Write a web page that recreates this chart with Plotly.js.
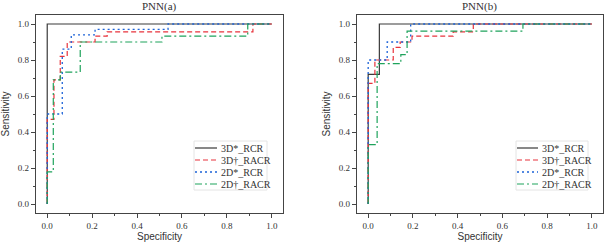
<!DOCTYPE html>
<html>
<head>
<meta charset="utf-8">
<script src="https://cdn.plot.ly/plotly-3.0.1.min.js"></script>
<style>html,body{margin:0;padding:0;background:#fff;}#chart{width:604px;height:244px;}</style>
</head>
<body>
<div id="chart"></div>
<script>
// ---- data ----
const seriesNames = ['3D*_RCR', '3D\u2020_RACR', '2D*_RCR', '2D\u2020_RACR'];
const panelTitles = ['PNN(a)', 'PNN(b)'];
const tickValues = [0, 0.2, 0.4, 0.6, 0.8, 1.0];

// PNN(a)  (step corners: x = specificity axis value, y = sensitivity)
const a_3dRcr_x  = [0, 0, 1];
const a_3dRcr_y  = [0, 1, 1];
const a_3dRacr_x = [0, 0, 0.03, 0.058, 0.089, 0.213, 0.267, 0.916, 1];
const a_3dRacr_y = [0, 0.47, 0.69, 0.82, 0.9, 0.933, 0.956, 1, 1];
const a_2dRcr_x  = [0, 0, 0.067, 0.107, 0.213, 0.538, 1];
const a_2dRcr_y  = [0, 0.5, 0.86, 0.94, 0.97, 1, 1];
const a_2dRacr_x = [0, 0, 0.027, 0.058, 0.147, 0.511, 0.893, 1];
const a_2dRacr_y = [0, 0.178, 0.69, 0.733, 0.9, 0.933, 1, 1];

// PNN(b)
const b_3dRcr_x  = [0, 0, 0.05, 1];
const b_3dRcr_y  = [0, 0.72, 1, 1];
const b_3dRacr_x = [0, 0, 0.03, 0.112, 0.143, 0.196, 0.38, 0.47, 1];
const b_3dRacr_y = [0, 0.67, 0.8, 0.87, 0.9, 0.933, 0.956, 1, 1];
const b_2dRcr_x  = [0, 0, 0.085, 0.19, 1];
const b_2dRcr_y  = [0, 0.8, 0.9, 1, 1];
const b_2dRacr_x = [0, 0, 0.04, 0.146, 0.174, 0.692, 1];
const b_2dRacr_y = [0, 0.33, 0.78, 0.83, 0.96, 1, 1];

// ---- styles ----
const lineStyles = [
  {color: '#3a3a3a', width: 1.2, dash: 'solid'},
  {color: '#e8333c', width: 1.2, dash: '5px,3px'},
  {color: '#1d63d8', width: 1.3, dash: '2px,3px'},
  {color: '#1fa35c', width: 1.2, dash: '7px,3px,2px,3px'}
];

const panelA = [[a_3dRcr_x, a_3dRcr_y], [a_3dRacr_x, a_3dRacr_y], [a_2dRcr_x, a_2dRcr_y], [a_2dRacr_x, a_2dRacr_y]];
const panelB = [[b_3dRcr_x, b_3dRcr_y], [b_3dRacr_x, b_3dRacr_y], [b_2dRcr_x, b_2dRcr_y], [b_2dRacr_x, b_2dRacr_y]];

const traces = [];
[[panelA, 'x', 'y'], [panelB, 'x2', 'y2']].forEach(([panel, xa, ya]) => {
  panel.forEach((d, i) => {
    traces.push({
      x: d[0], y: d[1], xaxis: xa, yaxis: ya,
      type: 'scatter', mode: 'lines', name: seriesNames[i],
      line: Object.assign({shape: 'hv'}, lineStyles[i]),
      showlegend: false, hoverinfo: 'skip'
    });
  });
});

const W = 604, H = 244;
const px = v => v / W;
const py = v => 1 - v / H;

function axisCommon() {
  return {
    range: [-0.05, 1.05], tickvals: tickValues, tickformat: '.1f',
    ticks: 'outside', ticklen: 4, tickwidth: 1, tickcolor: '#444',
    minor: {ticks: 'outside', ticklen: 2, tickwidth: 1, tickcolor: '#444', dtick: 0.1, tick0: 0},
    showline: true, linecolor: '#444', linewidth: 1.2, mirror: true,
    showgrid: false, zeroline: false,
    tickfont: {family: 'Liberation Serif, serif', size: 9, color: '#333'}
  };
}

const ydom = [1 - 213 / H, 1 - 15 / H];
const xTitle = {text: 'Specificity', font: {family: 'Liberation Sans, Arial, sans-serif', size: 10, color: '#333'}, standoff: 3};
const yTitle = {text: 'Sensitivity', font: {family: 'Liberation Sans, Arial, sans-serif', size: 10, color: '#333'}, standoff: 6};

const layout = {
  width: W, height: H,
  margin: {l: 0, r: 0, t: 0, b: 0},
  paper_bgcolor: '#fff', plot_bgcolor: '#fff',
  showlegend: false,
  xaxis: Object.assign(axisCommon(), {domain: [px(36), px(283)], anchor: 'y', title: xTitle}),
  yaxis: Object.assign(axisCommon(), {domain: ydom, anchor: 'x', title: yTitle}),
  xaxis2: Object.assign(axisCommon(), {domain: [px(357), px(603)], anchor: 'y2', title: xTitle}),
  yaxis2: Object.assign(axisCommon(), {domain: ydom, anchor: 'x2', title: yTitle}),
  shapes: [], annotations: []
};

// panel titles
[[159.5, panelTitles[0]], [480, panelTitles[1]]].forEach(([cx, t]) => {
  layout.annotations.push({
    xref: 'paper', yref: 'paper', x: px(cx), y: py(7), xanchor: 'center', yanchor: 'middle',
    text: t, showarrow: false, font: {family: 'Liberation Serif, serif', size: 11, color: '#333'}
  });
});

// custom compact legends
const legendBoxes = [
  {x0: 194, x1: 267, y0: 141, y1: 190, lx0: 195, lx1: 217, tx: 219},
  {x0: 516, x1: 588, y0: 141, y1: 190, lx0: 517, lx1: 538, tx: 540}
];
const rowY = [148, 160, 172, 184];
legendBoxes.forEach(b => {
  layout.shapes.push({type: 'rect', xref: 'paper', yref: 'paper',
    x0: px(b.x0), x1: px(b.x1), y0: py(b.y1), y1: py(b.y0),
    line: {color: '#e4e4e4', width: 1}, fillcolor: 'rgba(0,0,0,0)'});
  seriesNames.forEach((n, i) => {
    layout.shapes.push({type: 'line', xref: 'paper', yref: 'paper',
      x0: px(b.lx0), x1: px(b.lx1), y0: py(rowY[i]), y1: py(rowY[i]),
      line: {color: lineStyles[i].color, width: lineStyles[i].width, dash: lineStyles[i].dash}});
    layout.annotations.push({xref: 'paper', yref: 'paper', x: px(b.tx), y: py(rowY[i]),
      xanchor: 'left', yanchor: 'middle', showarrow: false, text: n,
      font: {family: 'Liberation Serif, serif', size: 10, color: '#333'}});
  });
});

Plotly.newPlot('chart', traces, layout, {staticPlot: true, displayModeBar: false});
</script>
</body>
</html>
